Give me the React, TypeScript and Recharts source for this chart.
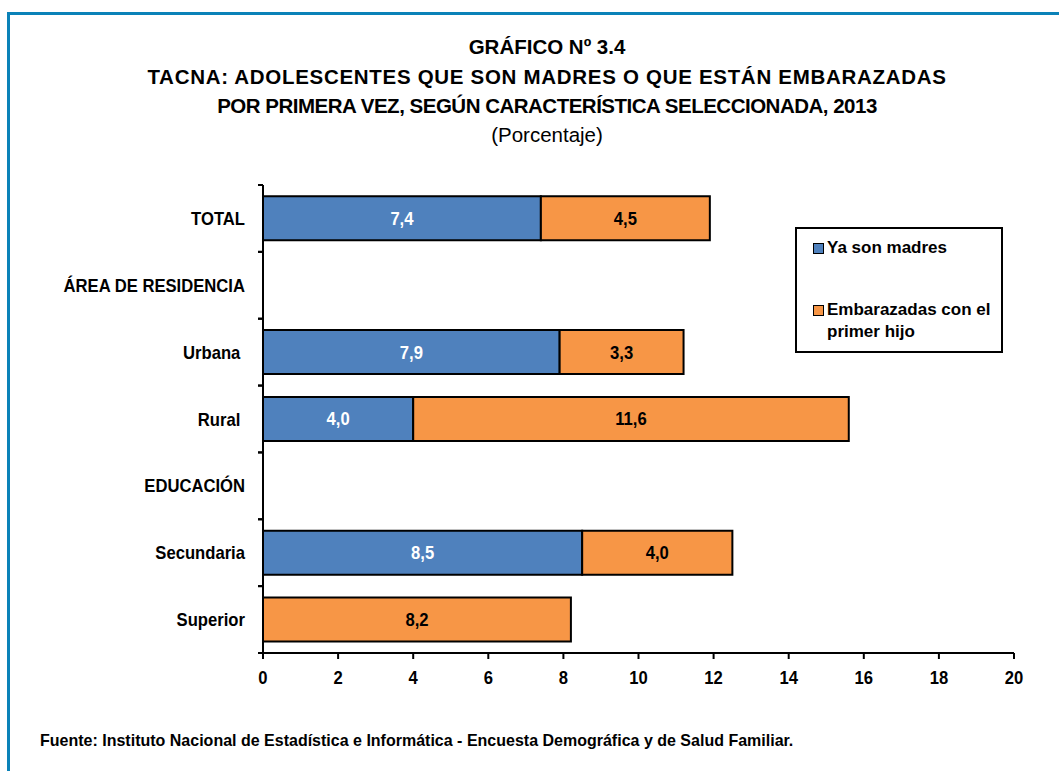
import React from 'react';
import { BarChart, Bar, XAxis, YAxis, Legend, LabelList } from 'recharts';

const categories = ['TOTAL', 'ÁREA DE RESIDENCIA', 'Urbana\u00a0', 'Rural\u00a0', 'EDUCACIÓN', 'Secundaria', 'Superior'];
const yaSonMadres: (number | null)[] = [7.4, null, 7.9, 4.0, null, 8.5, null];
const embarazadas: (number | null)[] = [4.5, null, 3.3, 11.6, null, 4.0, 8.2];
const xTicks = [0, 2, 4, 6, 8, 10, 12, 14, 16, 18, 20];

const seriesNames = ['Ya son madres', 'Embarazadas con el primer hijo'];
const BLUE = '#4f81bd';
const ORANGE = '#f79646';

const data = categories.map((c, i) => ({ cat: c, a: yaSonMadres[i], b: embarazadas[i] }));

const FONT = '"Liberation Sans", Arial, sans-serif';
const TICK_SIZE = 6;
const TICK_MARGIN = 12;
const NARROW = 0.9;

const fmt = (v: any) => (v === null || v === undefined || v === 0 ? '' : Number(v).toFixed(1).replace('.', ','));

const CatTick = (props: any) => {
  const { x, y, payload } = props;
  const half = payload && payload.offset ? payload.offset : 0;
  const axisX = x + TICK_SIZE + TICK_MARGIN;
  return (
    <g>
      <line x1={axisX - 5} x2={axisX} y1={y - half} y2={y - half} stroke="#000" strokeWidth={2} />
      <line x1={axisX - 5} x2={axisX} y1={y + half} y2={y + half} stroke="#000" strokeWidth={2} />
      <text
        transform={`translate(${x},${y}) scale(${NARROW},1)`}
        x={0}
        y={0}
        dy={6.5}
        textAnchor="end"
        fontFamily={FONT}
        fontWeight="bold"
        fontSize={18.5}
        fill="#000"
      >
        {payload.value}
      </text>
    </g>
  );
};

const NumTick = (props: any) => {
  const { x, y, payload } = props;
  return (
    <text
      transform={`translate(${x},${y}) scale(${NARROW},1)`}
      x={0}
      y={0}
      dy={19}
      textAnchor="middle"
      fontFamily={FONT}
      fontWeight="bold"
      fontSize={18.5}
      fill="#000"
    >
      {payload.value}
    </text>
  );
};

const makeBarLabel = (color: string) => (props: any) => {
  const { x, y, width, height, value } = props;
  const t = fmt(value);
  if (!t) return null;
  const cx = Number(x) + Number(width) / 2;
  const cy = Number(y) + Number(height) / 2;
  return (
    <text
      transform={`translate(${cx},${cy}) scale(${NARROW},1)`}
      x={0}
      y={0}
      dy={6.5}
      textAnchor="middle"
      fontFamily={FONT}
      fontWeight="bold"
      fontSize={18.5}
      fill={color}
    >
      {t}
    </text>
  );
};

const LegendBox = () => (
  <div
    style={{
      width: 208,
      height: 126,
      boxSizing: 'border-box',
      border: '2px solid #000',
      background: '#fff',
      fontFamily: FONT,
      fontWeight: 'bold',
      fontSize: 17,
      color: '#000',
      padding: '8px 10px 0 16px',
      lineHeight: '22px',
    }}
  >
    <div style={{ display: 'flex', alignItems: 'flex-start' }}>
      <span style={{ display: 'inline-block', width: 9, height: 9, background: BLUE, border: '1.5px solid #000', marginTop: 6, marginRight: 3, flex: 'none' }} />
      <span>{seriesNames[0]}</span>
    </div>
    <div style={{ display: 'flex', alignItems: 'flex-start', marginTop: 40 }}>
      <span style={{ display: 'inline-block', width: 9, height: 9, background: ORANGE, border: '1.5px solid #000', marginTop: 6, marginRight: 3, flex: 'none' }} />
      <span style={{ width: 170 }}>{seriesNames[1]}</span>
    </div>
  </div>
);

const titleLine: React.CSSProperties = { fontWeight: 'bold', fontSize: 20.5, lineHeight: '29.5px', whiteSpace: 'nowrap' };

export default function App() {
  return (
    <div style={{ position: 'absolute', left: 0, top: 0, width: 1059, height: 771, background: '#fff', overflow: 'hidden' }}>
      <div
        style={{
          position: 'absolute',
          left: 7,
          top: 12,
          width: 1059,
          height: 771,
          borderTop: '3px solid #0b82b8',
          borderLeft: '3px solid #0b82b8',
        }}
      />
      <div
        style={{
          position: 'absolute',
          left: 0,
          top: 32,
          width: 1094,
          textAlign: 'center',
          fontFamily: FONT,
          color: '#000',
        }}
      >
        <div style={titleLine}>GRÁFICO Nº 3.4</div>
        <div style={{ ...titleLine, letterSpacing: '0.7px' }}>TACNA: ADOLESCENTES QUE SON MADRES O QUE ESTÁN EMBARAZADAS</div>
        <div style={{ ...titleLine, letterSpacing: '-0.5px' }}>POR PRIMERA VEZ, SEGÚN CARACTERÍSTICA SELECCIONADA, 2013</div>
        <div style={{ ...titleLine, fontWeight: 'normal', lineHeight: '27px' }}>(Porcentaje)</div>
      </div>
      <div style={{ position: 'absolute', left: 0, top: 0 }}>
        <BarChart
          width={1059}
          height={771}
          data={data}
          layout="vertical"
          barCategoryGap="17%"
          margin={{ top: 185, right: 45, bottom: 88, left: 0 }}
        >
          <XAxis
            type="number"
            domain={[0, 20]}
            ticks={xTicks}
            height={30}
            tickSize={6}
            tickMargin={6}
            axisLine={{ stroke: '#000', strokeWidth: 2 }}
            tickLine={{ stroke: '#000', strokeWidth: 2 }}
            tick={<NumTick />}
          />
          <YAxis
            type="category"
            dataKey="cat"
            width={263}
            tickLine={false}
            tickSize={TICK_SIZE}
            tickMargin={TICK_MARGIN}
            axisLine={{ stroke: '#000', strokeWidth: 2 }}
            tick={<CatTick />}
            interval={0}
          />
          <Legend
            layout="vertical"
            align="center"
            verticalAlign="middle"
            wrapperStyle={{ position: 'absolute', left: 795, top: 227, width: 208, height: 126 }}
            content={() => <LegendBox />}
          />
          <Bar dataKey="a" name={seriesNames[0]} stackId="s" fill={BLUE} stroke="#000" strokeWidth={2} isAnimationActive={false}>
            <LabelList dataKey="a" content={makeBarLabel('#fff')} />
          </Bar>
          <Bar dataKey="b" name={seriesNames[1]} stackId="s" fill={ORANGE} stroke="#000" strokeWidth={2} isAnimationActive={false}>
            <LabelList dataKey="b" content={makeBarLabel('#000')} />
          </Bar>
        </BarChart>
      </div>
      <div
        style={{
          position: 'absolute',
          left: 40,
          top: 731,
          fontFamily: FONT,
          fontWeight: 'bold',
          fontSize: 16.5,
          color: '#000',
          whiteSpace: 'nowrap',
          transformOrigin: '0 0',
          transform: 'scaleX(0.97)',
        }}
      >
        Fuente: Instituto Nacional de Estadística e Informática - Encuesta Demográfica y de Salud Familiar.
      </div>
    </div>
  );
}
